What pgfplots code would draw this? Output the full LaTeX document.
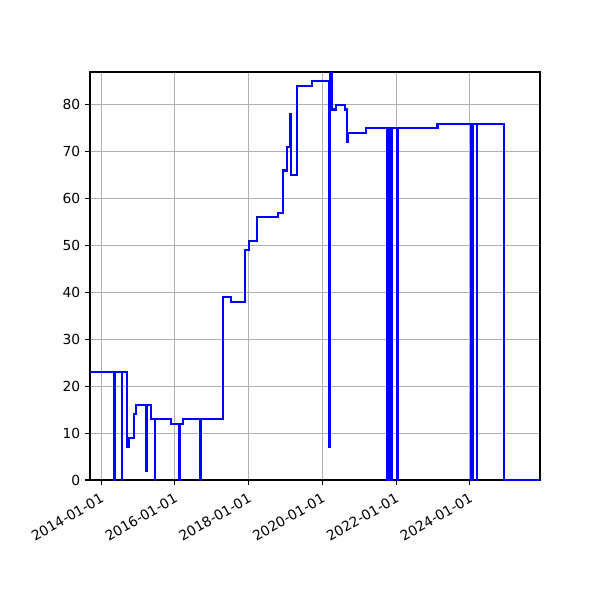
\documentclass[border=0pt]{standalone}
\usepackage{fontspec}
\setmainfont{DejaVu Sans}
\usepackage{pgfplots}
\pgfplotsset{compat=1.18}
\definecolor{gridgray}{HTML}{B0B0B0}

\begin{document}
\begin{tikzpicture}
\useasboundingbox (-0.9in,-1.2in) rectangle (5.1in,4.8in);
\begin{axis}[
    at={(0,0)}, anchor=south west,
    scale only axis,
    width=4.5in, height=4.08in,
    xmin=2013.70, xmax=2025.90,
    ymin=0, ymax=87,
    xtick={2014,2016,2018,2020,2022,2024},
    xticklabels={2014-01-01,2016-01-01,2018-01-01,2020-01-01,2022-01-01,2024-01-01},
    ytick={0,10,20,30,40,50,60,70,80},
    xticklabel style={rotate=30, anchor=north east, inner sep=1pt, xshift=-2.5pt, yshift=-3pt},
    tick label style={font=\fontsize{10}{12}\selectfont},
    /pgf/number format/assume math mode=true,
    tick align=outside,
    major tick length=3.5pt,
    tick style={line width=0.8pt, black},
    xtick pos=bottom, ytick pos=left,
    axis line style={line width=0.8pt},
    grid=major,
    major grid style={line width=0.8pt, draw=gridgray},
]
% series
\addplot[const plot, color=blue, line width=1.5pt] coordinates {
(2013.70,23) (2014.36,0) (2014.37,23) (2014.56,0) (2014.57,23)
(2014.71,7) (2014.75,9) (2014.89,14) (2014.94,16)
(2015.23,2) (2015.25,16) (2015.36,13) (2015.46,0) (2015.47,13)
(2015.90,12) (2016.12,0) (2016.13,12) (2016.21,13)
(2016.69,0) (2016.70,13) (2017.30,39) (2017.52,38)
(2017.91,49) (2018.01,51) (2018.22,56) (2018.79,57)
(2018.92,66) (2019.03,71) (2019.12,78) (2019.14,65)
(2019.30,84) (2019.73,85) (2020.19,7) (2020.20,95)
(2020.265,79) (2020.36,80) (2020.61,79) (2020.66,78)
(2020.68,72) (2020.70,74) (2021.18,75)
(2021.76,0) (2021.77,75) (2021.82,0) (2021.83,75) (2021.87,0) (2021.88,75)
(2022.035,0) (2022.045,75) (2023.12,76)
(2024.02,0) (2024.03,76) (2024.07,0) (2024.08,76) (2024.18,0) (2024.19,76)
(2024.93,0) (2025.90,0)
};
\end{axis}
\end{tikzpicture}
\end{document}
